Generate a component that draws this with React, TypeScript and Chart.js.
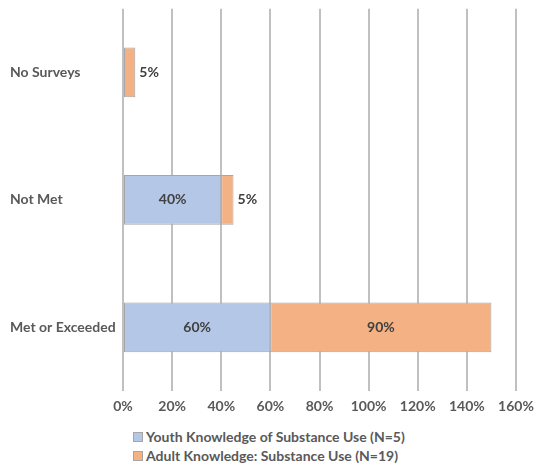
import React, { useEffect, useRef } from "react";
import { Chart, registerables } from "chart.js";

Chart.register(...registerables);

const categories = ["No Surveys", "Not Met", "Met or Exceeded"];
const youthValues = [0, 40, 60];
const adultValues = [5, 5, 90];
const seriesLabels = [
  "Youth Knowledge of Substance Use (N=5)",
  "Adult Knowledge: Substance Use (N=19)",
];
const colors = ["#b4c7e7", "#f4b183"];

const FONT = "Lato, Calibri, 'DejaVu Sans', sans-serif";
const TEXT = "#595959";

const labelPlugin = {
  id: "barLabels",
  afterDatasetsDraw(chart: any) {
    const ctx = chart.ctx;
    ctx.save();
    ctx.font = `bold 14px ${FONT}`;
    ctx.fillStyle = "#404040";
    ctx.textBaseline = "middle";
    chart.data.datasets.forEach((ds: any, di: number) => {
      const meta = chart.getDatasetMeta(di);
      meta.data.forEach((bar: any, i: number) => {
        const v = ds.data[i];
        if (!v) return;
        const text = `${v}%`;
        const left = Math.min(bar.base, bar.x);
        const right = Math.max(bar.base, bar.x);
        const w = right - left;
        const tw = ctx.measureText(text).width;
        if (w < tw + 6) {
          ctx.textAlign = "left";
          ctx.fillText(text, right + 4, bar.y);
        } else {
          ctx.textAlign = "center";
          ctx.fillText(text, (left + right) / 2, bar.y);
        }
      });
    });
    ctx.restore();
  },
};

export default function App() {
  const ref = useRef<HTMLCanvasElement | null>(null);
  useEffect(() => {
    if (!ref.current) return;
    const bw = (c: any) => (c.raw ? 1 : 0);
    const chart = new Chart(ref.current, {
      type: "bar",
      data: {
        labels: categories,
        datasets: [
          {
            label: seriesLabels[0],
            data: youthValues,
            backgroundColor: colors[0],
            borderColor: "#a6a6a6",
            borderWidth: bw,
            borderSkipped: false,
          },
          {
            label: seriesLabels[1],
            data: adultValues,
            backgroundColor: colors[1],
            borderColor: "#a6a6a6",
            borderWidth: bw,
            borderSkipped: false,
          },
        ],
      },
      options: {
        indexAxis: "y",
        animation: false,
        responsive: false,
        maintainAspectRatio: false,
        datasets: { bar: { barPercentage: 0.39, categoryPercentage: 1 } },
        layout: { padding: { left: 2, right: 26, top: 0, bottom: 1 } },
        plugins: {
          legend: { display: false },
          tooltip: { enabled: false },
        },
        scales: {
          x: {
            stacked: true,
            min: 0,
            max: 160,
            ticks: {
              stepSize: 20,
              padding: 7,
              color: TEXT,
              font: { family: FONT, size: 14, weight: "bold" },
              callback: (v: any) => `${v}%`,
            },
            grid: { color: "#c0c0c0", lineWidth: 2, drawTicks: false },
            border: { display: false },
          },
          y: {
            stacked: true,
            ticks: {
              crossAlign: "far",
              padding: 0,
              color: TEXT,
              font: { family: FONT, size: 14, weight: "bold", lineHeight: 0.1 },
            },
            grid: { display: false },
            border: { display: false },
            afterFit: (scale: any) => {
              scale.width = 113;
            },
          },
        },
      },
      plugins: [labelPlugin],
    } as any);
    return () => chart.destroy();
  }, []);

  return (
    <div style={{ width: 534, fontFamily: FONT }}>
      <canvas ref={ref} width={534} height={415} style={{ display: "block" }} />
      <div style={{ paddingLeft: 125, marginTop: 4 }}>
        {seriesLabels.map((l, i) => (
          <div
            key={l}
            style={{
              display: "flex",
              alignItems: "center",
              height: 19,
              fontSize: 14,
              fontWeight: "bold",
              color: TEXT,
            }}
          >
            <span
              style={{
                display: "inline-block",
                width: 8,
                height: 8,
                background: colors[i],
                border: "1px solid #a6a6a6",
                marginRight: 3,
              }}
            />
            {l}
          </div>
        ))}
      </div>
    </div>
  );
}
